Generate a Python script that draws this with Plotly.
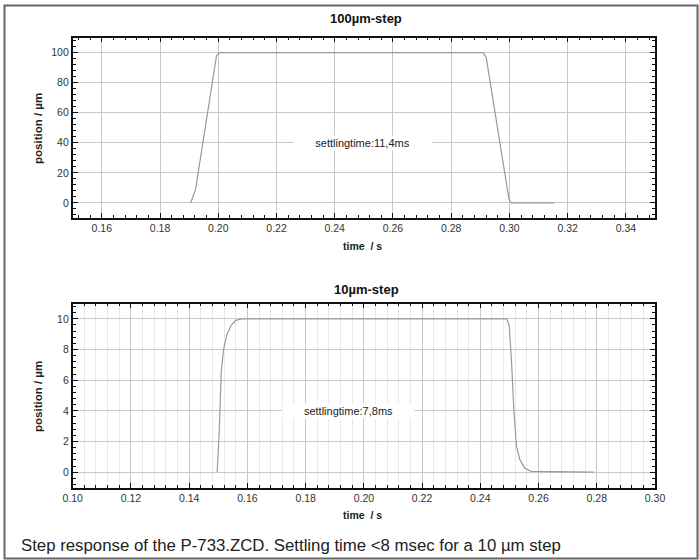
import plotly.graph_objects as go

# ---- data ----
t_100 = [0.1905, 0.1922, 0.1994, 0.2003, 0.2011, 0.2100, 0.2500, 0.2909, 0.2920, 0.2998, 0.3006, 0.3154]
pos_100 = [0, 9, 98, 99.6, 100, 100, 100, 100, 97, 3, 0, 0]

t_10 = [0.1496, 0.1503, 0.1510, 0.1518, 0.1530, 0.1545, 0.1560, 0.1580, 0.2000, 0.2490,
        0.2499, 0.2507, 0.2515, 0.2524, 0.2536, 0.2553, 0.2575, 0.2790]
pos_10 = [0, 2.5, 6.5, 8.0, 9.0, 9.6, 9.9, 10, 10, 10,
          9.6, 7.3, 4.1, 1.7, 0.8, 0.26, 0.05, 0]

title_top = "100µm-step"
title_bottom = "10µm-step"
note_top = "settlingtime:11,4ms"
note_bottom = "settlingtime:7,8ms"
x_title = "time  / s"
y_title = "position / µm"
caption = "Step response of the P-733.ZCD. Settling time <8 msec for a 10 µm step"

W, H = 699, 560
FONT = "Liberation Sans, Arial, Helvetica, sans-serif"
LINE = "#9a9a9a"
GRID = "#c8c8c8"
MINOR_GRID = "#e8e8e8"

def px(x):
    return x / W

def py(y):
    return 1 - y / H

fig = go.Figure()
fig.add_trace(go.Scatter(x=t_100, y=pos_100, mode="lines", xaxis="x", yaxis="y",
                         line=dict(color=LINE, width=1.2), showlegend=False, hoverinfo="skip"))
fig.add_trace(go.Scatter(x=t_10, y=pos_10, mode="lines", xaxis="x2", yaxis="y2",
                         line=dict(color=LINE, width=1.2), showlegend=False, hoverinfo="skip"))

common = dict(showline=True, linecolor="#111", linewidth=1.6, mirror="allticks",
              ticks="inside", ticklen=5, tickwidth=1.2, tickcolor="#111",
              gridcolor=GRID, gridwidth=1, zeroline=False,
              tickfont=dict(family=FONT, size=10.5, color="#333"))

x_dom = [px(72.7), px(655)]

fig.update_layout(
    width=W, height=H,
    margin=dict(l=0, r=0, t=0, b=0),
    paper_bgcolor="white", plot_bgcolor="white",
    font=dict(family=FONT),
    xaxis=dict(domain=x_dom, anchor="y", range=[0.15, 0.35], tick0=0.16, dtick=0.02,
               tickformat=".2f", automargin=False,
               minor=dict(ticks="inside", ticklen=3, dtick=0.004, tickcolor="#111", showgrid=False),
               **common),
    yaxis=dict(domain=[py(218), py(37.5)], anchor="x", range=[-10, 110], tick0=0, dtick=20,
               automargin=False,
               minor=dict(ticks="inside", ticklen=3, dtick=4, tickcolor="#111", showgrid=False),
               **common),
    xaxis2=dict(domain=x_dom, anchor="y2", range=[0.10, 0.30], tick0=0.10, dtick=0.02,
                tickformat=".2f", automargin=False,
                minor=dict(ticks="inside", ticklen=3, dtick=0.004, tickcolor="#111",
                           showgrid=True, gridcolor=MINOR_GRID, gridwidth=1),
                **common),
    yaxis2=dict(domain=[py(487.5), py(303.5)], anchor="x2", range=[-1, 11], tick0=0, dtick=2,
                automargin=False,
                minor=dict(ticks="inside", ticklen=3, dtick=0.4, tickcolor="#111", showgrid=False),
                **common),
)

ann = []
def paper_text(text, x, y, size, color="#222", angle=0, xanchor="center"):
    ann.append(dict(text=text, x=px(x), y=py(y), xref="paper", yref="paper",
                    xanchor=xanchor, yanchor="middle", textangle=angle, showarrow=False,
                    font=dict(family=FONT, size=size, color=color)))

# subplot titles
paper_text("<b>%s</b>" % title_top, 366, 19, 13, "#111")
paper_text("<b>%s</b>" % title_bottom, 366, 289, 13, "#111")
# axis titles
paper_text("<b>%s</b>" % x_title, 363, 246, 10.5)
paper_text("<b>%s</b>" % x_title, 363, 515, 10.5)
paper_text("<b>%s</b>" % y_title, 38, 129, 11.5, angle=-90)
paper_text("<b>%s</b>" % y_title, 38, 397, 11.5, angle=-90)
# caption
paper_text(caption, 19, 545, 16.8, xanchor="left")

# settling time notes
ann.append(dict(text=note_top, x=0.2497, y=40, xref="x", yref="y", showarrow=False,
                bgcolor="white", width=135, font=dict(family=FONT, size=11, color="#222")))
ann.append(dict(text=note_bottom, x=0.1946, y=4, xref="x2", yref="y2", showarrow=False,
                bgcolor="white", width=129, font=dict(family=FONT, size=11, color="#222")))
fig.update_layout(annotations=ann)

fig.add_shape(type="rect", xref="paper", yref="paper",
              x0=px(4.5), x1=px(697.5), y0=py(558.5), y1=py(5.5),
              line=dict(color="#666", width=2), fillcolor="rgba(0,0,0,0)", layer="above")

fig.write_html("out.html", config={"displayModeBar": False},
               post_script="document.body.style.margin='0';")
